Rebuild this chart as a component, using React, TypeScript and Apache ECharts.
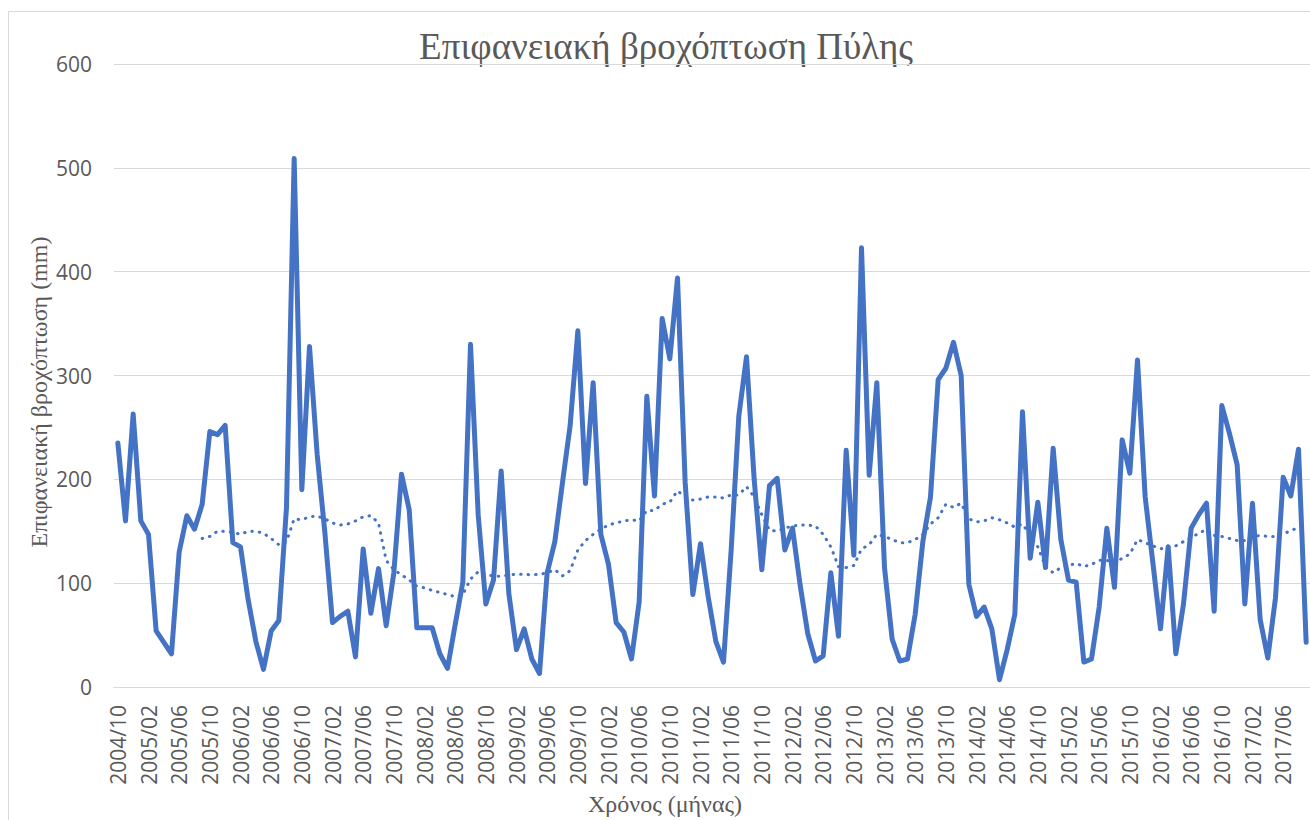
import React, { useEffect, useRef } from "react";
import * as echarts from "echarts";

// Monthly surface rainfall (mm), 2004/10 – 2017/09
const startYear = 2004;
const startMonth = 10;
const rainfall: number[] = [
  235, 160, 263, 160, 147, 54, 43, 32, 130, 165, 152, 176,
  246, 243, 252, 139, 135, 84, 44, 17, 54, 64, 173, 509,
  190, 328, 224, 149, 62, 68, 73, 29, 133, 71, 114, 59,
  110, 205, 171, 57, 57, 57, 32, 18, 60, 101, 330, 166,
  80, 103, 208, 90, 36, 56, 27, 13, 110, 140, 197, 252,
  343, 196, 293, 147, 118, 62, 53, 27, 82, 280, 184, 355,
  316, 394, 197, 89, 138, 87, 44, 24, 132, 261, 318, 200,
  113, 194, 201, 132, 153, 98, 51, 25, 30, 110, 49, 228,
  127, 423, 204, 293, 115, 46, 25, 27, 70, 140, 183, 296,
  307, 332, 300, 99, 68, 77, 56, 7, 36, 70, 265, 124,
  178, 115, 230, 142, 103, 101, 24, 27, 77, 153, 96, 238,
  206, 315, 183, 120, 56, 135, 32, 80, 153, 166, 177, 73,
  271, 244, 214, 80, 177, 65, 28, 86, 202, 184, 229, 43,
];

// Dotted trend line (12-month moving average)
const trend: (number | null)[] = [
  null, null, null, null, null, null, null, null, null, null, null,
  143, 145, 150, 150, 149, 147, 150, 150, 148, 143, 137, 140, 162,
  161, 164, 164.5, 162, 158, 156, 157, 160, 164, 165, 158, 122,
  113, 108, 103, 97, 95.5, 93, 91, 89, 87, 89, 104, 111, 108,
  107, 106.5, 108, 108.5, 108.5, 108, 108.5, 110, 113, 107, 112,
  132, 141, 147, 152, 156, 158, 160, 161, 160, 170, 170, 176, 178, 189,
  183, 180, 181, 183, 183, 182, 185, 185, 193, 183, 166, 151, 150, 153,
  155, 156, 156, 155, 147, 135, 116, 115, 117, 133, 137,
  147, 145, 142, 139, 139, 142, 147, 157, 163, 176, 173, 177, 162, 159,
  160, 163, 161, 158, 154, 157, 146, 135, 116, 110,
  115, 117, 119, 116, 118, 122, 122, 119, 124, 128, 142, 139, 136, 133,
  135, 136, 140, 144, 148, 152, 146, 145, 143, 141, 141, 145, 146, 145,
  145, 147, 151, 153, 153,
];

const yTicks = { min: 0, max: 600, interval: 100 };

const titleText = "Επιφανειακή βροχόπτωση Πύλης";
const yAxisTitle = "Επιφανειακή βροχόπτωση (mm)";
const xAxisTitle = "Χρόνος (μήνας)";

const categories: string[] = rainfall.map((_, i) => {
  const m0 = startMonth - 1 + i;
  const y = startYear + Math.floor(m0 / 12);
  const m = (m0 % 12) + 1;
  return `${y}/${m < 10 ? "0" + m : m}`;
});

export default function App() {
  const ref = useRef<HTMLDivElement>(null);
  useEffect(() => {
    if (!ref.current) return;
    const chart = echarts.init(ref.current, undefined, { renderer: "svg" });
    const grey = "#595959";
    const serif = "'Liberation Serif', 'Times New Roman', serif";
    const sans = "'Open Sans', sans-serif";
    chart.setOption({
      animation: false,
      backgroundColor: "#ffffff",
      grid: { left: 114, right: 0, top: 64, bottom: 133, containLabel: false },
      xAxis: {
        type: "category",
        data: categories,
        boundaryGap: true,
        axisLine: { show: true, lineStyle: { color: "#d9d9d9", width: 1 } },
        axisTick: { show: false },
        axisLabel: {
          interval: 3,
          rotate: 90,
          margin: 18,
          fontSize: 21,
          fontFamily: sans,
          color: grey,
        },
        splitLine: { show: false },
      },
      yAxis: {
        type: "value",
        min: yTicks.min,
        max: yTicks.max,
        interval: yTicks.interval,
        axisLine: { show: false },
        axisTick: { show: false },
        axisLabel: { margin: 22, fontSize: 21, fontFamily: sans, color: grey },
        splitLine: { lineStyle: { color: "#d9d9d9", width: 1 } },
      },
      series: [
        {
          type: "line",
          data: rainfall,
          symbol: "none",
          lineStyle: { color: "#4472C4", width: 5, cap: "round", join: "round" },
          z: 2,
        },
        {
          type: "line",
          data: trend,
          symbol: "none",
          connectNulls: false,
          lineStyle: {
            color: "#4472C4",
            width: 3,
            type: [0.5, 7],
            cap: "round",
            join: "round",
          },
          z: 3,
        },
      ],
      graphic: [
        {
          type: "rect",
          shape: { x: 8.5, y: 11.5, width: 1400, height: 900 },
          style: { fill: "none", stroke: "#d9d9d9", lineWidth: 1 },
          silent: true,
          z: -10,
        },
        {
          type: "text",
          x: 666,
          y: 46,
          style: {
            text: titleText,
            font: `37px ${serif}`,
            fill: grey,
            textAlign: "center",
            textVerticalAlign: "middle",
          },
        },
        {
          type: "text",
          x: 39,
          y: 392,
          rotation: Math.PI / 2,
          style: {
            text: yAxisTitle,
            font: `24px ${serif}`,
            fill: grey,
            textAlign: "center",
            textVerticalAlign: "middle",
          },
        },
        {
          type: "text",
          x: 665,
          y: 804,
          style: {
            text: xAxisTitle,
            font: `24px ${serif}`,
            fill: grey,
            textAlign: "center",
            textVerticalAlign: "middle",
          },
        },
      ],
    });
    return () => chart.dispose();
  }, []);
  return (
    <div
      ref={ref}
      style={{ position: "absolute", left: 0, top: 0, width: 1310, height: 820 }}
    />
  );
}
